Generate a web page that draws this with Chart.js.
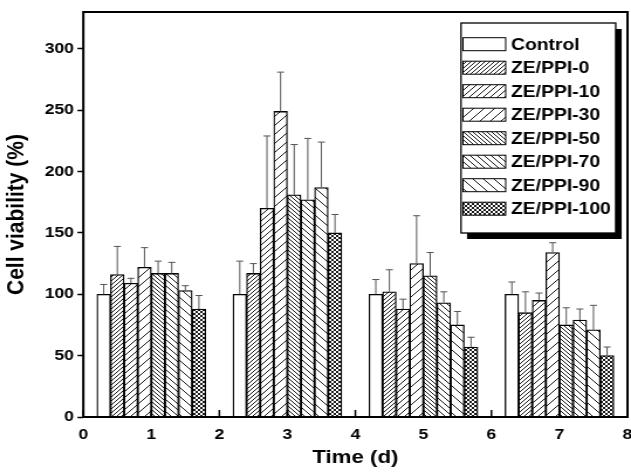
<!DOCTYPE html>
<html>
<head>
<meta charset="utf-8">
<script src="https://cdn.jsdelivr.net/npm/chart.js@4.4.0/dist/chart.umd.min.js"></script>
<style>
  html, body { margin: 0; padding: 0; background: #fff; }
  #chart { display: block; }
</style>
</head>
<body>
<!-- drawn at 539px wide and stretched to 631px, the source figure is wider than its fonts -->
<canvas id="chart" width="539" height="473" style="width:631px;height:473px"></canvas>
<script>
const days = [1, 3, 5, 7];
const seriesNames = ["Control", "ZE/PPI-0", "ZE/PPI-10", "ZE/PPI-30", "ZE/PPI-50", "ZE/PPI-70", "ZE/PPI-90", "ZE/PPI-100"];

const control = [100, 100, 100, 100];
const ppi0 = [116, 117, 102, 85];
const ppi10 = [109, 170, 88, 95];
const ppi30 = [122, 249, 125, 134];
const ppi50 = [117, 181, 115, 75];
const ppi70 = [117, 177, 93, 79];
const ppi90 = [103, 187, 75, 71];
const ppi100 = [88, 150, 57, 50];

const controlErr = [8, 27, 12, 10];
const ppi0Err = [23, 8, 18, 17];
const ppi10Err = [4, 59, 8, 6];
const ppi30Err = [16, 32, 39, 8];
const ppi50Err = [10, 41, 19, 14];
const ppi70Err = [9, 50, 9, 9];
const ppi90Err = [4, 37, 11, 20];
const ppi100Err = [11, 15, 8, 7];

const yTicks = [0, 50, 100, 150, 200, 250, 300];
const xTicks = [0, 1, 2, 3, 4, 5, 6, 7, 8];

const values = [control, ppi0, ppi10, ppi30, ppi50, ppi70, ppi90, ppi100];
const errors = [controlErr, ppi0Err, ppi10Err, ppi30Err, ppi50Err, ppi70Err, ppi90Err, ppi100Err];

const S = 631 / 539; // horizontal stretch of the css box
const FONT = "'Liberation Sans', Arial, sans-serif";

// hatch fill: dir 1 = "/", -1 = "\", 0 = cross
function hatch(size, dir) {
  const c = document.createElement("canvas");
  c.width = size;
  c.height = size;
  const ctx = c.getContext("2d");
  ctx.fillStyle = "#fff";
  ctx.fillRect(0, 0, size, size);
  ctx.strokeStyle = "#000";
  ctx.lineWidth = 0.9;
  ctx.beginPath();
  if (dir >= 0) {
    ctx.moveTo(0, size); ctx.lineTo(size, 0);
    ctx.moveTo(-1, 1); ctx.lineTo(1, -1);
    ctx.moveTo(size - 1, size + 1); ctx.lineTo(size + 1, size - 1);
  }
  if (dir <= 0) {
    ctx.moveTo(0, 0); ctx.lineTo(size, size);
    ctx.moveTo(-1, size - 1); ctx.lineTo(1, size + 1);
    ctx.moveTo(size - 1, -1); ctx.lineTo(size + 1, 1);
  }
  ctx.stroke();
  return ctx.createPattern(c, "repeat");
}

const fills = [
  "#fff",
  hatch(4, 1),
  hatch(6, 1),
  hatch(9, 1),
  hatch(4, -1),
  hatch(6, -1),
  hatch(9, -1),
  hatch(4, 0),
];

const datasets = seriesNames.map((name, s) => ({
  label: name,
  data: days.map((d, i) => ({ x: d + (s - 3.5) * 0.2, y: values[s][i] })),
  errors: errors[s],
  backgroundColor: fills[s],
  borderColor: "#000",
  borderWidth: 1.3,
  borderSkipped: "start",
  grouped: false,
  categoryPercentage: 1,
  barPercentage: 1,
}));

const extras = {
  id: "extras",
  afterDatasetsDraw(chart) {
    const ctx = chart.ctx;
    const area = chart.chartArea;
    const xs = chart.scales.x;
    const ys = chart.scales.y;
    ctx.save();

    // error bars (upper half only)
    ctx.strokeStyle = "#555";
    ctx.lineWidth = 1;
    chart.data.datasets.forEach((ds, d) => {
      chart.getDatasetMeta(d).data.forEach((bar, i) => {
        const top = ys.getPixelForValue(ds.data[i].y + ds.errors[i]);
        ctx.beginPath();
        ctx.moveTo(bar.x, bar.y);
        ctx.lineTo(bar.x, top);
        ctx.moveTo(bar.x - 3, top);
        ctx.lineTo(bar.x + 3, top);
        ctx.stroke();
      });
    });

    // x ticks point inwards
    ctx.strokeStyle = "#000";
    ctx.lineWidth = 1.5;
    xTicks.forEach((v) => {
      const x = xs.getPixelForValue(v);
      ctx.beginPath();
      ctx.moveTo(x, area.bottom);
      ctx.lineTo(x, area.bottom - 7);
      ctx.stroke();
    });

    // frame
    ctx.lineWidth = 2;
    ctx.strokeRect(area.left, area.top, area.right - area.left, area.bottom - area.top);
    ctx.restore();
  },
  afterDraw(chart) {
    const ctx = chart.ctx;
    const x0 = 461 / S;
    const y0 = 23;
    const w = (615.7 - 461) / S;
    const h = 210;
    ctx.save();
    ctx.fillStyle = "#000";
    ctx.fillRect(x0 + 6 / S, y0 + 6, w, h);
    ctx.fillStyle = "#fff";
    ctx.fillRect(x0, y0, w, h);
    ctx.strokeStyle = "#000";
    ctx.lineWidth = 1.3;
    ctx.strokeRect(x0, y0, w, h);

    ctx.font = "bold 16.5px " + FONT;
    ctx.textBaseline = "middle";
    ctx.textAlign = "left";
    chart.data.datasets.forEach((ds, i) => {
      const cy = 44.2 + i * 23.5;
      const sx = 463 / S;
      const sw = (505.7 - 463) / S;
      ctx.fillStyle = ds.backgroundColor;
      ctx.fillRect(sx, cy - 6.5, sw, 13);
      ctx.lineWidth = 1;
      ctx.strokeRect(sx, cy - 6.5, sw, 13);
      ctx.fillStyle = "#000";
      ctx.fillText(ds.label, 511 / S, cy + 1);
    });
    ctx.restore();
  },
};

Chart.defaults.color = "#000";
Chart.defaults.font.family = FONT;

new Chart(document.getElementById("chart"), {
  type: "bar",
  data: { datasets },
  options: {
    responsive: false,
    animation: false,
    devicePixelRatio: 1,
    layout: { padding: { top: 11, right: 3, left: 0, bottom: 0 } },
    plugins: {
      legend: { display: false },
      tooltip: { enabled: false },
    },
    scales: {
      x: {
        type: "linear",
        min: 0,
        max: 8,
        offset: false,
        afterFit: (scale) => {
          scale.height = 56;
          scale.paddingLeft = 0;
          scale.paddingRight = 0;
        },
        afterBuildTicks: (scale) => { scale.ticks = xTicks.map((v) => ({ value: v })); },
        grid: { display: false, drawTicks: false },
        border: { display: false },
        ticks: { padding: 9, font: { size: 15, weight: "bold" } },
        title: {
          display: true,
          text: "Time (d)",
          font: { size: 19, weight: "bold" },
          padding: { top: 0, bottom: 4 },
        },
      },
      y: {
        min: 0,
        max: 330,
        afterFit: (scale) => { scale.width = 83.3 / S; },
        afterBuildTicks: (scale) => { scale.ticks = yTicks.map((v) => ({ value: v })); },
        grid: {
          drawOnChartArea: false,
          drawTicks: true,
          tickLength: 5,
          tickWidth: 1.5,
          tickColor: "#000",
        },
        border: { display: false },
        ticks: { padding: 3, font: { size: 15, weight: "bold" } },
        title: {
          display: true,
          text: "Cell viability (%)",
          font: { size: 21, weight: "bold" },
          padding: { top: 2, bottom: 0 },
        },
      },
    },
  },
  plugins: [extras],
});
</script>
</body>
</html>
